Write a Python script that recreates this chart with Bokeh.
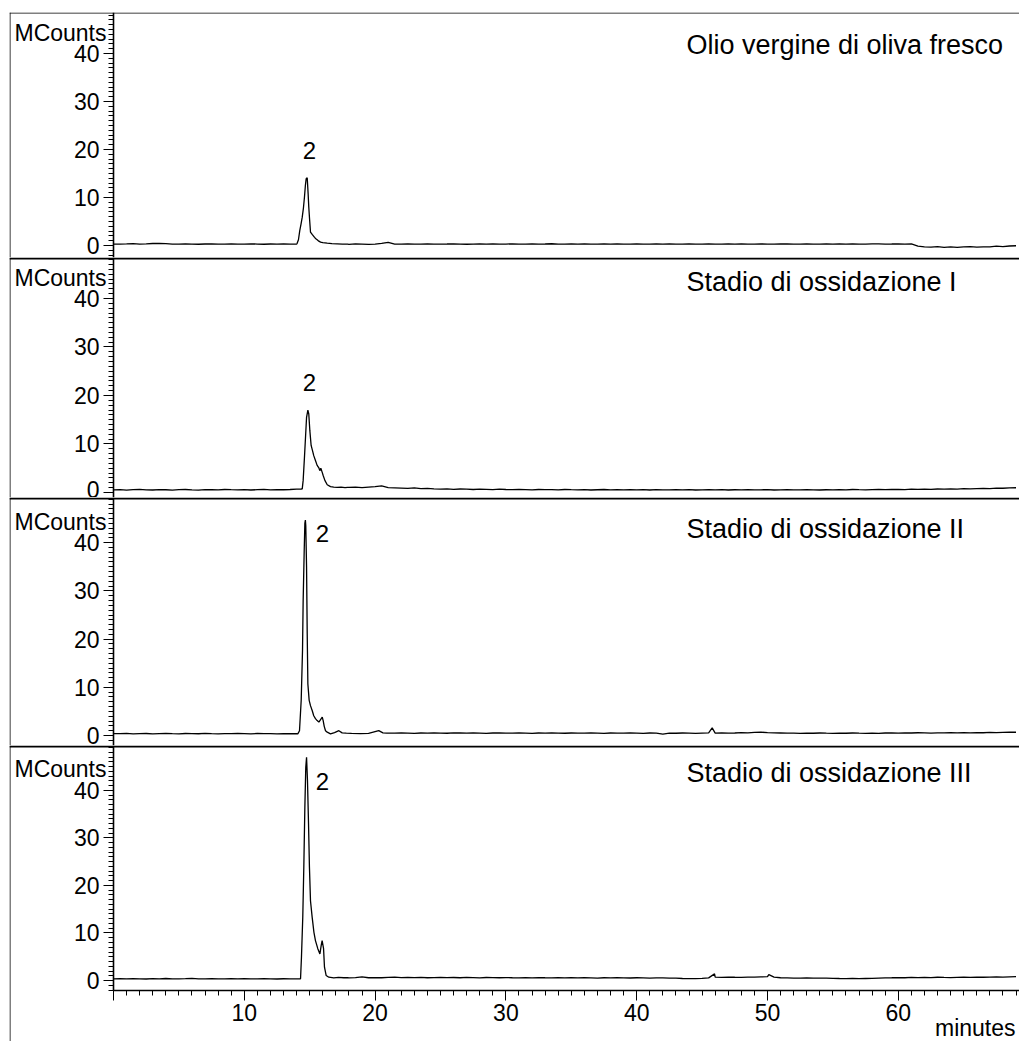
import numpy as np
from bokeh.plotting import figure
from bokeh.layouts import column
from bokeh.models import Span, Label, FixedTicker
from bokeh.embed import file_html
from bokeh.resources import INLINE

FONT = "Liberation Sans"

# ---- data -----------------------------------------------------------------
# baseline samples every 0.5 min (0 ... 69 min), MCounts
grid_t = np.arange(0, 69.01, 0.5)

base_fresco = [
    0.30, 0.28, 0.33, 0.40, 0.30, 0.32, 0.42, 0.45, 0.38, 0.30,
    0.28, 0.32, 0.30, 0.26, 0.31, 0.35, 0.30, 0.27, 0.33, 0.30,
    0.29, 0.34, 0.30, 0.26, 0.31, 0.30, 0.33, 0.28, 0.30, 0.35,
    0.50, 0.45, 0.40, 0.38, 0.35, 0.30, 0.25, 0.33, 0.28, 0.22,
    0.30, 0.45, 0.65, 0.30, 0.28, 0.32, 0.30, 0.27, 0.33, 0.30,
    0.28, 0.31, 0.35, 0.30, 0.26, 0.30, 0.33, 0.29, 0.31, 0.28,
    0.30, 0.34, 0.29, 0.27, 0.32, 0.30, 0.31, 0.36, 0.30, 0.28,
    0.31, 0.29, 0.33, 0.30, 0.27, 0.32, 0.30, 0.34, 0.29, 0.30,
    0.32, 0.28, 0.30, 0.33, 0.29, 0.31, 0.27, 0.30, 0.34, 0.30,
    0.29, 0.31, 0.30, 0.28, 0.33, 0.30, 0.31, 0.29, 0.30, 0.32,
    0.30, 0.28, 0.31, 0.33, 0.30, 0.29, 0.32, 0.30, 0.28, 0.31,
    0.30, 0.33, 0.29, 0.31, 0.30, 0.28, 0.32, 0.35, 0.30, 0.31,
    0.33, 0.30, 0.32, -0.15, -0.30, -0.35, -0.25, -0.40, -0.30, -0.38,
    -0.30, -0.22, -0.35, -0.28, -0.30, -0.15, -0.25, -0.10, -0.05,
]
base_ox1 = [
    0.55, 0.60, 0.50, 0.58, 0.65, 0.55, 0.52, 0.60, 0.57, 0.50,
    0.58, 0.62, 0.55, 0.50, 0.60, 0.57, 0.53, 0.62, 0.58, 0.55,
    0.60, 0.52, 0.58, 0.63, 0.55, 0.60, 0.57, 0.62, 0.70, 0.75,
    1.20, 1.10, 1.05, 1.10, 1.10, 1.10, 1.05, 1.10, 1.00, 1.10,
    1.20, 1.35, 1.00, 0.95, 0.90, 0.85, 0.95, 0.80, 0.85, 0.75,
    0.70, 0.75, 0.65, 0.72, 0.68, 0.62, 0.70, 0.65, 0.60, 0.68,
    0.62, 0.58, 0.65, 0.60, 0.55, 0.62, 0.58, 0.60, 0.55, 0.62,
    0.58, 0.55, 0.60, 0.52, 0.57, 0.62, 0.55, 0.58, 0.53, 0.60,
    0.55, 0.58, 0.52, 0.60, 0.56, 0.53, 0.58, 0.55, 0.60, 0.52,
    0.56, 0.60, 0.54, 0.58, 0.52, 0.57, 0.55, 0.60, 0.53, 0.56,
    0.58, 0.52, 0.55, 0.60, 0.56, 0.53, 0.58, 0.55, 0.52, 0.57,
    0.55, 0.60, 0.56, 0.62, 0.58, 0.55, 0.60, 0.63, 0.58, 0.62,
    0.65, 0.60, 0.68, 0.63, 0.70, 0.66, 0.72, 0.68, 0.75, 0.70,
    0.78, 0.74, 0.80, 0.85, 0.82, 0.90, 0.88, 0.95, 0.98,
]
base_ox2 = [
    0.40, 0.38, 0.45, 0.35, 0.40, 0.42, 0.36, 0.40, 0.44, 0.38,
    0.35, 0.42, 0.40, 0.37, 0.45, 0.40, 0.36, 0.41, 0.38, 0.43,
    0.40, 0.36, 0.42, 0.38, 0.40, 0.35, 0.41, 0.37, 0.35, 0.40,
    0.60, 0.60, 0.55, 0.50, 0.60, 0.80, 0.55, 0.50, 0.45, 0.50,
    0.60, 0.90, 0.50, 0.48, 0.55, 0.50, 0.45, 0.52, 0.48, 0.55,
    0.50, 0.47, 0.55, 0.52, 0.48, 0.53, 0.50, 0.46, 0.52, 0.55,
    0.50, 0.48, 0.53, 0.50, 0.46, 0.52, 0.49, 0.55, 0.50, 0.47,
    0.52, 0.50, 0.48, 0.54, 0.50, 0.46, 0.52, 0.50, 0.48, 0.53,
    0.50, 0.46, 0.52, 0.48, 0.30, 0.50, 0.47, 0.52, 0.49, 0.45,
    0.50, 0.55, 0.50, 0.55, 0.50, 0.52, 0.60, 0.55, 0.65, 0.70,
    0.60, 0.55, 0.52, 0.48, 0.50, 0.45, 0.50, 0.47, 0.52, 0.48,
    0.45, 0.50, 0.47, 0.52, 0.48, 0.45, 0.50, 0.46, 0.52, 0.55,
    0.50, 0.55, 0.52, 0.58, 0.55, 0.50, 0.56, 0.53, 0.58, 0.55,
    0.60, 0.56, 0.62, 0.58, 0.65, 0.60, 0.66, 0.70, 0.68,
]
base_ox3 = [
    0.35, 0.38, 0.33, 0.40, 0.36, 0.32, 0.38, 0.35, 0.42, 0.36,
    0.33, 0.38, 0.45, 0.36, 0.34, 0.40, 0.36, 0.33, 0.38, 0.35,
    0.40, 0.36, 0.33, 0.38, 0.35, 0.32, 0.37, 0.34, 0.35, 0.40,
    0.60, 0.60, 0.60, 0.60, 0.70, 0.60, 0.55, 0.62, 0.75, 0.58,
    0.62, 0.58, 0.65, 0.70, 0.62, 0.66, 0.60, 0.64, 0.58, 0.62,
    0.66, 0.60, 0.63, 0.58, 0.65, 0.62, 0.57, 0.63, 0.60, 0.58,
    0.62, 0.58, 0.55, 0.60, 0.57, 0.62, 0.58, 0.55, 0.60, 0.56,
    0.58, 0.55, 0.60, 0.56, 0.52, 0.58, 0.55, 0.60, 0.56, 0.53,
    0.58, 0.55, 0.52, 0.57, 0.54, 0.50, 0.48, 0.42, 0.38, 0.40,
    0.45, 0.55, 0.70, 0.65, 0.72, 0.68, 0.65, 0.72, 0.70, 0.75,
    0.80, 0.70, 0.58, 0.55, 0.52, 0.50, 0.53, 0.48, 0.50, 0.52,
    0.45, 0.42, 0.40, 0.43, 0.38, 0.42, 0.45, 0.50, 0.55, 0.58,
    0.62, 0.58, 0.65, 0.60, 0.66, 0.62, 0.68, 0.64, 0.62, 0.66,
    0.70, 0.66, 0.72, 0.68, 0.70, 0.75, 0.72, 0.78, 0.80,
]

# main peak (no. 2) sampled densely
peak_fresco_t = [14.0, 14.04, 14.14, 14.24, 14.34, 14.43, 14.52, 14.60, 14.67, 14.73,
                 14.81, 14.88, 14.93, 14.98, 15.06, 15.19, 15.28, 15.37, 15.47, 15.57,
                 15.70, 15.83, 16.0, 16.34, 16.7, 17.1, 17.5, 17.9]
peak_fresco_v = [0.30, 0.45, 1.2, 3.1, 4.5, 5.9, 7.8, 10.1, 12.5, 13.9,
                 14.1, 10.8, 8.0, 5.9, 2.8, 2.3, 2.0, 1.7, 1.4, 1.2,
                 0.9, 0.7, 0.6, 0.5, 0.4, 0.35, 0.3, 0.28]

peak_ox1_t = [14.0, 14.2, 14.35, 14.43, 14.50, 14.60, 14.68, 14.76, 14.86, 14.93,
              15.01, 15.11, 15.21, 15.31, 15.44, 15.57, 15.70, 15.77, 15.85, 15.95,
              16.03, 16.16, 16.34, 16.59, 16.84, 17.1, 17.4, 17.7, 17.9]
peak_ox1_v = [0.70, 0.68, 0.72, 0.76, 2.5, 7.3, 11.4, 15.5, 17.0, 16.2,
              12.8, 9.7, 8.7, 7.6, 6.6, 5.6, 5.1, 4.5, 5.0, 4.2,
              3.5, 2.5, 1.6, 1.2, 1.1, 1.05, 1.1, 1.0, 1.05]

peak_ox2_t = [14.0, 14.09, 14.22, 14.35, 14.45, 14.50, 14.58, 14.63, 14.67, 14.70,
              14.76, 14.81, 14.86, 14.96, 15.06, 15.19, 15.31, 15.44, 15.57, 15.70,
              15.83, 15.96, 16.03, 16.11, 16.21, 16.34, 16.59, 16.9, 17.23, 17.48,
              17.8, 18.2, 18.88, 19.5, 20.28, 20.6, 20.9]
peak_ox2_v = [0.38, 0.35, 1.0, 7.3, 17.6, 28.0, 38.4, 44.0, 44.7, 43.5,
              34.9, 21.1, 10.7, 7.3, 6.2, 5.2, 4.1, 3.5, 3.1, 2.8,
              3.3, 3.8, 3.1, 1.9, 1.0, 0.7, 0.35, 0.6, 1.0, 0.55,
              0.5, 0.45, 0.4, 0.45, 1.0, 0.55, 0.5]

peak_ox3_t = [14.0, 14.15, 14.30, 14.37, 14.47, 14.55, 14.63, 14.70, 14.76, 14.83,
              14.91, 14.98, 15.06, 15.19, 15.32, 15.44, 15.62, 15.78, 15.88, 15.95,
              16.06, 16.13, 16.26, 16.46, 16.84, 17.2, 17.6, 17.9]
peak_ox3_v = [0.36, 0.34, 0.35, 4.9, 13.3, 23.9, 36.5, 44.9, 47.0, 42.1,
              33.0, 23.9, 16.8, 13.3, 10.2, 8.4, 6.7, 5.6, 7.4, 8.4,
              6.7, 2.8, 1.05, 0.7, 0.55, 0.65, 0.58, 0.6]

# small late-eluting peaks
minor_ox2_t = [45.77]
minor_ox2_v = [1.6]
minor_ox3_t = [45.95, 50.1]
minor_ox3_v = [1.4, 1.25]

titles = ["Olio vergine di oliva fresco", "Stadio di ossidazione I",
          "Stadio di ossidazione II", "Stadio di ossidazione III"]
y_major = [0, 10, 20, 30, 40]
x_major = [0, 10, 20, 30, 40, 50, 60]

# ---- layout constants -----------------------------------------------------
PX_PER_MIN = 13.08
X0 = -104 / PX_PER_MIN
X1 = 906 / PX_PER_MIN
TICK_FONT = "23px"


def trace(base, pt, pv, mt=(), mv=()):
    keep = (grid_t < pt[0]) | (grid_t > pt[-1])
    t = np.concatenate([grid_t[keep], pt, mt])
    v = np.concatenate([np.asarray(base)[keep], pv, mv])
    order = np.argsort(t, kind="stable")
    return t[order], v[order]


def panel(height, y0, y1, top_pad, last=False):
    p = figure(width=1019, height=height, x_range=(X0, X1), y_range=(y0, y1),
               output_backend="svg", toolbar_location=None,
               x_axis_location="below" if last else None,
               min_border_left=9, min_border_right=0,
               min_border_top=top_pad, min_border_bottom=0)
    p.outline_line_color = None
    p.xgrid.visible = False
    p.ygrid.visible = False
    p.background_fill_color = "white"
    p.border_fill_color = "white"
    ax = p.yaxis[0]
    ax.fixed_location = 0
    ax.ticker = FixedTicker(ticks=y_major, minor_ticks=list(range(-2, 50)))
    ax.axis_line_width = 1.6
    ax.major_tick_out = 10
    ax.major_tick_in = 0
    ax.minor_tick_out = 5
    ax.minor_tick_in = 0
    ax.major_label_standoff = 4
    ax.major_label_text_font = FONT
    ax.major_label_text_font_size = TICK_FONT
    ax.major_label_text_color = "black"
    return p


def frame_lines(p, y1, px_per_unit, thick):
    off = (thick / 2) / px_per_unit
    p.add_layout(Span(location=y1 - off, dimension="width",
                      line_color="black", line_width=thick))
    p.add_layout(Span(location=X0 + 0.5 / PX_PER_MIN, dimension="height",
                      line_color="black", line_width=1))


def add_texts(p, title, title_y, num_x, num_y, mc_y):
    p.add_layout(Label(x=0, y=mc_y, x_offset=-7, text="MCounts", text_font=FONT,
                       text_font_size="23px", text_align="right",
                       text_baseline="middle", text_color="black"))
    p.add_layout(Label(x=43.8, y=title_y, text=title, text_font=FONT,
                       text_font_size="27px", text_align="left",
                       text_baseline="middle", text_color="black"))
    p.add_layout(Label(x=num_x, y=num_y, text="2", text_font=FONT,
                       text_font_size="24px", text_align="center",
                       text_baseline="middle", text_color="black"))


# panel ranges (MCounts)
r1 = (-2.5, 48.54)
r2 = (-1.03, 48.45)
r3 = (-2.07, 49.38)
r4 = (-12.84, 49.47)
X_AXIS_Y = -2.1
TRACE_W = 1.3

p1 = panel(257, *r1, top_pad=12)
t, v = trace(base_fresco, peak_fresco_t, peak_fresco_v)
p1.line(t, v, line_color="black", line_width=TRACE_W)
frame_lines(p1, r1[1], 4.8, 1)
add_texts(p1, titles[0], 41.7, 14.98, 19.8, 44.2)

p2 = panel(240, *r2, top_pad=0)
t, v = trace(base_ox1, peak_ox1_t, peak_ox1_v)
p2.line(t, v, line_color="black", line_width=TRACE_W)
frame_lines(p2, r2[1], 4.85, 2)
add_texts(p2, titles[1], 43.5, 14.98, 22.7, 44.3)

p3 = panel(248, *r3, top_pad=0)
t, v = trace(base_ox2, peak_ox2_t, peak_ox2_v, minor_ox2_t, minor_ox2_v)
p3.line(t, v, line_color="black", line_width=TRACE_W)
frame_lines(p3, r3[1], 4.82, 2)
add_texts(p3, titles[2], 42.9, 15.98, 41.9, 44.2)

p4 = panel(296, *r4, top_pad=0, last=True)
t, v = trace(base_ox3, peak_ox3_t, peak_ox3_v, minor_ox3_t, minor_ox3_v)
p4.line(t, v, line_color="black", line_width=TRACE_W)
frame_lines(p4, r4[1], 4.75, 2)
add_texts(p4, titles[3], 43.6, 15.98, 41.9, 44.6)
p4.yaxis[0].bounds = (X_AXIS_Y, r4[1])

xa = p4.xaxis[0]
xa.fixed_location = X_AXIS_Y
xa.bounds = (0, X1)
xa.ticker = FixedTicker(ticks=x_major, minor_ticks=list(range(0, 70)))
xa.major_label_overrides = {0: ""}
xa.axis_line_width = 1.6
xa.major_tick_out = 10
xa.major_tick_in = 0
xa.minor_tick_out = 5
xa.minor_tick_in = 0
xa.major_label_standoff = 4
xa.major_label_text_font = FONT
xa.major_label_text_font_size = TICK_FONT
xa.major_label_text_color = "black"
p4.add_layout(Label(x=X1, y=-10.1, x_offset=-4, text="minutes", text_font=FONT,
                    text_font_size="23px", text_align="right",
                    text_baseline="middle", text_color="black"))

layout = column(p1, p2, p3, p4, spacing=0)
open("out.html", "w").write(file_html(layout, INLINE))
